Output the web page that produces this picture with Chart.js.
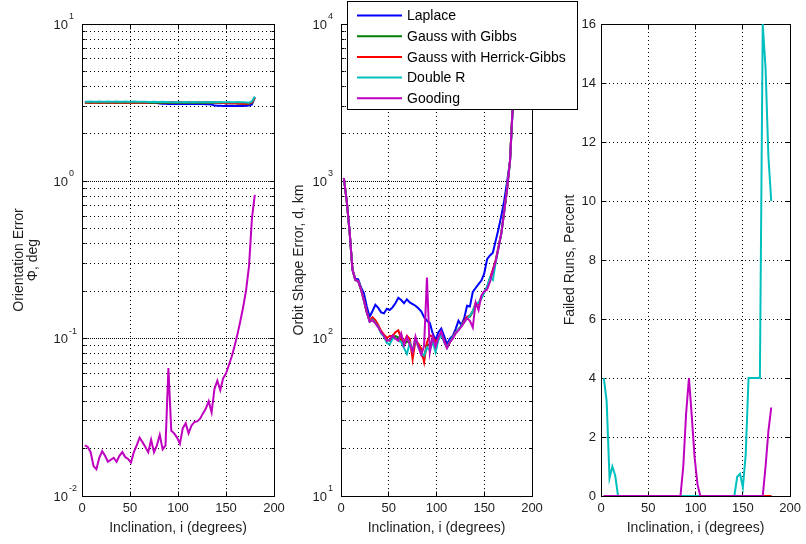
<!DOCTYPE html>
<html>
<head>
<meta charset="utf-8">
<script src="https://cdn.jsdelivr.net/npm/chart.js@4.4.1/dist/chart.umd.min.js"></script>
<style>
  html, body { margin: 0; padding: 0; background: #fff; }
  #fig { position: relative; width: 806px; height: 544px; overflow: hidden; background: #fff; }
  #fig canvas { position: absolute; top: 0; }
</style>
</head>
<body>
<div id="fig">
  <canvas id="orient" width="290" height="544" style="left:0px"></canvas>
  <canvas id="shape" width="300" height="544" style="left:285px"></canvas>
  <canvas id="failed" width="266" height="544" style="left:540px"></canvas>
</div>
<script>
// inclination samples (degrees)
const INCL = [3, 6, 9, 12, 15, 18, 21, 24, 27, 30,
  33, 36, 39, 42, 45, 48, 51, 54, 57, 60,
  63, 66, 69, 72, 75, 78, 81, 84, 87, 90,
  93, 96, 99, 102, 105, 108, 111, 114, 117, 120,
  123, 126, 129, 132, 135, 138, 141, 144, 147, 150,
  153, 156, 159, 162, 165, 168, 171, 174, 177, 180];

const METHODS = ['Laplace', 'Gauss with Gibbs', 'Gauss with Herrick-Gibbs', 'Double R', 'Gooding'];
const COLORS = ['#0000ff', '#007f00', '#ff0000', '#00bfbf', '#bf00bf'];

const X_TICKS = [0, 50, 100, 150, 200];
const ORIENT_DECADES = [-2, -1, 0, 1];
const SHAPE_DECADES = [1, 2, 3, 4];
const FAIL_TICKS = [0, 2, 4, 6, 8, 10, 12, 14, 16];

// Orientation error, deg
const ORIENT_LAPLACE = [3.18, 3.18, 3.19, 3.18, 3.18, 3.17, 3.18, 3.18, 3.18, 3.17,
  3.18, 3.18, 3.18, 3.17, 3.18, 3.18, 3.18, 3.18, 3.17, 3.18,
  3.18, 3.17, 3.16, 3.16, 3.16, 3.15, 3.12, 3.11, 3.11, 3.10,
  3.10, 3.10, 3.10, 3.11, 3.10, 3.10, 3.10, 3.11, 3.10, 3.10,
  3.10, 3.10, 3.09, 3.09, 3.08, 3.03, 3.02, 3.02, 3.01, 3.02,
  3.01, 3.02, 3.01, 3.01, 3.02, 3.01, 3.02, 3.03, 3.08, 3.42];
const ORIENT_GIBBS = [3.16, 3.16, 3.15, 3.16, 3.16, 3.15, 3.16, 3.16, 3.15, 3.16,
  3.16, 3.15, 3.16, 3.16, 3.15, 3.16, 3.16, 3.15, 3.16, 3.16,
  3.15, 3.16, 3.16, 3.15, 3.16, 3.16, 3.15, 3.16, 3.16, 3.15,
  3.16, 3.16, 3.15, 3.16, 3.16, 3.15, 3.16, 3.16, 3.15, 3.16,
  3.16, 3.15, 3.16, 3.16, 3.15, 3.16, 3.16, 3.15, 3.15, 3.14,
  3.14, 3.13, 3.13, 3.12, 3.11, 3.11, 3.10, 3.11, 3.16, 3.40];
const ORIENT_HG = [3.17, 3.17, 3.17, 3.16, 3.17, 3.17, 3.16, 3.17, 3.17, 3.17,
  3.16, 3.17, 3.17, 3.17, 3.16, 3.17, 3.17, 3.16, 3.17, 3.17,
  3.17, 3.16, 3.17, 3.18, 3.18, 3.19, 3.18, 3.18, 3.19, 3.18,
  3.19, 3.18, 3.18, 3.19, 3.18, 3.18, 3.19, 3.18, 3.18, 3.19,
  3.18, 3.18, 3.19, 3.18, 3.18, 3.17, 3.16, 3.16, 3.15, 3.14,
  3.14, 3.13, 3.13, 3.12, 3.12, 3.11, 3.11, 3.12, 3.17, 3.41];
const ORIENT_DOUBLER = [3.21, 3.21, 3.22, 3.21, 3.21, 3.22, 3.21, 3.21, 3.22, 3.21,
  3.21, 3.22, 3.21, 3.21, 3.22, 3.21, 3.21, 3.22, 3.21, 3.21,
  3.20, 3.20, 3.19, 3.19, 3.20, 3.19, 3.19, 3.20, 3.19, 3.19,
  3.18, 3.18, 3.19, 3.18, 3.18, 3.19, 3.18, 3.18, 3.19, 3.18,
  3.18, 3.19, 3.18, 3.18, 3.19, 3.18, 3.18, 3.19, 3.18, 3.18,
  3.19, 3.18, 3.18, 3.19, 3.18, 3.18, 3.17, 3.16, 3.22, 3.46];
const ORIENT_GOODING = [0.021, 0.0205, 0.019, 0.0155, 0.0148, 0.0175, 0.0193, 0.018, 0.0165, 0.017,
  0.0175, 0.0165, 0.018, 0.019, 0.0177, 0.0172, 0.0163, 0.019, 0.021, 0.0235,
  0.022, 0.0205, 0.019, 0.0228, 0.019, 0.021, 0.0245, 0.0198, 0.021, 0.065,
  0.026, 0.025, 0.0235, 0.0215, 0.027, 0.029, 0.025, 0.028, 0.0295, 0.0298,
  0.031, 0.0335, 0.036, 0.040, 0.034, 0.048, 0.054, 0.047, 0.056, 0.060,
  0.068, 0.077, 0.090, 0.107, 0.130, 0.160, 0.205, 0.290, 0.58, 0.82];

// Orbit shape error, km
const SHAPE_LAPLACE = [1050, 750, 480, 275, 240, 238, 212, 194, 160, 138,
  150, 164, 157, 147, 145, 155, 152, 158, 168, 182,
  176, 168, 178, 170, 166, 162, 156, 149, 137, 130,
  126, 108, 98, 110, 116, 104, 92, 100, 104, 115,
  130, 122, 135, 162, 160, 198, 210, 222, 234, 260,
  320, 338, 352, 420, 500, 610, 760, 1000, 1350, 3000];
const SHAPE_GIBBS = [1050, 750, 480, 275, 236, 232, 205, 175, 147, 129,
  134, 128, 120, 110, 104, 98, 97, 102, 104, 102,
  98, 92, 96, 95, 80, 98, 90, 82, 76, 92,
  90, 100, 90, 100, 108, 96, 88, 95, 101, 109,
  114, 120, 128, 136, 138, 148, 166, 166, 182, 197,
  212, 242, 272, 312, 382, 472, 652, 905, 1355, 3200];
const SHAPE_HG = [1050, 750, 480, 275, 236, 232, 205, 175, 147, 130,
  137, 131, 122, 112, 106, 101, 104, 104, 110, 113,
  100, 95, 104, 100, 74, 98, 93, 86, 71, 95,
  105, 103, 96, 100, 108, 97, 88, 95, 102, 110,
  115, 121, 130, 138, 140, 150, 168, 165, 185, 198,
  210, 240, 275, 315, 385, 475, 655, 910, 1360, 3200];
const SHAPE_DOUBLER = [1050, 750, 480, 275, 236, 232, 205, 175, 147, 128,
  132, 126, 119, 108, 103, 94, 92, 100, 101, 97,
  95, 87, 80, 94, 84, 100, 88, 81, 78, 88,
  84, 96, 82, 98, 106, 95, 88, 96, 102, 109,
  115, 121, 128, 135, 140, 150, 165, 170, 180, 196,
  215, 245, 236, 305, 380, 470, 650, 900, 1350, 3200];
const SHAPE_GOODING = [1050, 750, 480, 275, 236, 232, 205, 175, 147, 128,
  131, 125, 118, 110, 104, 97, 98, 105, 100, 97,
  108, 91, 103, 92, 83, 103, 89, 79, 90, 245,
  82, 103, 89, 102, 111, 96, 87, 95, 100, 108,
  113, 119, 127, 135, 130, 118, 170, 152, 188, 200,
  205, 230, 270, 310, 380, 470, 650, 900, 1350, 3200];

// Failed runs, percent
const FAIL_LAPLACE = [0, 0, 0, 0, 0, 0, 0, 0, 0, 0,
  0, 0, 0, 0, 0, 0, 0, 0, 0, 0,
  0, 0, 0, 0, 0, 0, 0, 0, 0, 0,
  0, 0, 0, 0, 0, 0, 0, 0, 0, 0,
  0, 0, 0, 0, 0, 0, 0, 0, 0, 0,
  0, 0, 0, 0, 0, 0, 0, 0, 0, 0];
const FAIL_GIBBS = [0, 0, 0, 0, 0, 0, 0, 0, 0, 0,
  0, 0, 0, 0, 0, 0, 0, 0, 0, 0,
  0, 0, 0, 0, 0, 0, 0, 0, 0, 0,
  0, 0, 0, 0, 0, 0, 0, 0, 0, 0,
  0, 0, 0, 0, 0, 0, 0, 0, 0, 0,
  0, 0, 0, 0, 0, 0, 0, 0, 0, 0];
const FAIL_HG = [0, 0, 0, 0, 0, 0, 0, 0, 0, 0,
  0, 0, 0, 0, 0, 0, 0, 0, 0, 0,
  0, 0, 0, 0, 0, 0, 0, 0, 0, 0,
  0, 0, 0, 0, 0, 0, 0, 0, 0, 0,
  0, 0, 0, 0, 0, 0, 0, 0, 0, 0,
  0, 0, 0, 0, 0, 0, 0, 0, 0, 0];
const FAIL_DOUBLER = [4.0, 3.2, 0.6, 1.0, 0.7, 0, 0, 0, 0, 0,
  0, 0, 0, 0, 0, 0, 0, 0, 0, 0,
  0, 0, 0, 0, 0, 0, 0, 0, 0, 0,
  0, 0, 0, 0, 0, 0, 0, 0, 0, 0,
  0, 0, 0, 0, 0, 0, 0, 0.65, 0.75, 0.3,
  1.4, 4, 4, 4, 4, 4, 16, 14.5, 11.5, 10];
const FAIL_GOODING = [0, 0, 0, 0, 0, 0, 0, 0, 0, 0,
  0, 0, 0, 0, 0, 0, 0, 0, 0, 0,
  0, 0, 0, 0, 0, 0, 0, 0, 1.0, 2.8,
  4.0, 2.7, 1.3, 0.4, 0, 0, 0, 0, 0, 0,
  0, 0, 0, 0, 0, 0, 0, 0, 0, 0,
  0, 0, 0, 0, 0, 0, 0, 1.0, 2.2, 3.0];

const FONT = '"Liberation Sans", Arial, Helvetica, sans-serif';
const TXT = '#1e1e1e';
Chart.defaults.font.family = FONT;
Chart.defaults.color = TXT;

function series(values) {
  return INCL.map((x, i) => ({ x: x, y: values[i] }));
}

// matlab draws later lines on top, so Gooding gets the lowest order
function makeDatasets(list) {
  return list.map((vals, k) => ({
    label: METHODS[k],
    data: series(vals),
    borderColor: COLORS[k],
    backgroundColor: COLORS[k],
    borderWidth: 2,
    pointRadius: 0,
    tension: 0,
    order: list.length - 1 - k
  }));
}

const gridOpts = { color: '#000', lineWidth: 1, drawTicks: false };
const borderOpts = { display: false, dash: [1, 3] };

function xAxis() {
  return {
    type: 'linear',
    min: X_TICKS[0],
    max: X_TICKS[X_TICKS.length - 1],
    afterBuildTicks: s => { s.ticks = X_TICKS.map(v => ({ value: v })); },
    afterFit: s => { s.height = 48; },
    grid: gridOpts,
    border: borderOpts,
    ticks: { padding: 5, color: TXT, font: { size: 13 }, maxRotation: 0, autoSkip: false },
    title: { display: true, text: 'Inclination, i (degrees)', color: TXT,
      font: { size: 14 }, padding: { top: 0, bottom: 7 } }
  };
}

function logAxis(decades, width, titleText, titlePad) {
  const lo = decades[0], hi = decades[decades.length - 1];
  return {
    type: 'logarithmic',
    min: Math.pow(10, lo),
    max: Math.pow(10, hi),
    afterBuildTicks: s => {
      const t = [];
      for (let e = lo; e < hi; e++) {
        for (let m = 1; m < 10; m++) t.push({ value: m * Math.pow(10, e), minor: m > 1 });
      }
      t.push({ value: Math.pow(10, hi), minor: false });
      s.ticks = t;
    },
    afterFit: s => { s.width = width; },
    grid: gridOpts,
    border: borderOpts,
    ticks: { display: false },
    title: { display: true, text: titleText, color: TXT,
      font: { size: 14, lineHeight: 1 }, padding: { top: titlePad, bottom: 0 } }
  };
}

const px = p => Math.round(p - 0.5) + 0.5;

// axes box and inward ticks sit under the data (matlab Layer 'bottom'),
// 10^n labels and the legend go on top
const matlabFrame = {
  id: 'matlabFrame',
  beforeDatasetsDraw(chart, args, opts) {
    const { ctx, chartArea: a } = chart;
    const xs = chart.scales.x, ys = chart.scales.y;
    const L = px(a.left), R = px(a.right), T = px(a.top), B = px(a.bottom);
    ctx.save();
    ctx.strokeStyle = '#000';
    ctx.lineWidth = 1;
    if (opts.decades) {
      ctx.setLineDash([1, 3]);
      ctx.lineDashOffset = 2;
      ctx.beginPath();
      opts.decades.forEach(e => {
        const y = px(ys.getPixelForValue(Math.pow(10, e)));
        ctx.moveTo(a.left, y);
        ctx.lineTo(a.right, y);
      });
      ctx.stroke();
    }
    ctx.setLineDash([]);
    ctx.beginPath();
    ys.ticks.forEach(t => {
      const y = px(ys.getPixelForValue(t.value));
      const len = t.minor ? 3 : 5;
      ctx.moveTo(L, y); ctx.lineTo(L + len, y);
      ctx.moveTo(R, y); ctx.lineTo(R - len, y);
    });
    xs.ticks.forEach(t => {
      const x = px(xs.getPixelForValue(t.value));
      ctx.moveTo(x, T); ctx.lineTo(x, T + 5);
      ctx.moveTo(x, B); ctx.lineTo(x, B - 5);
    });
    ctx.stroke();
    ctx.strokeRect(L, T, R - L, B - T);
    ctx.restore();
  },
  afterDraw(chart, args, opts) {
    const { ctx, chartArea: a } = chart;
    const ys = chart.scales.y;
    ctx.save();
    if (opts.decades) {
      ctx.fillStyle = TXT;
      opts.decades.forEach(e => {
        const y = ys.getPixelForValue(Math.pow(10, e));
        ctx.font = '13px ' + FONT;
        ctx.textAlign = 'right';
        ctx.textBaseline = 'middle';
        ctx.fillText('10', a.left - 14, y + 1);
        ctx.font = '9px ' + FONT;
        ctx.textAlign = 'left';
        ctx.textBaseline = 'alphabetic';
        ctx.fillText(String(e), a.left - 13, y - 5);
      });
    }

    if (opts.legend) {
      const g = opts.legend;
      ctx.fillStyle = '#fff';
      ctx.fillRect(g.x, g.y, g.w, g.h);
      ctx.strokeStyle = '#000';
      ctx.lineWidth = 1;
      ctx.strokeRect(g.x + 0.5, g.y + 0.5, g.w, g.h);
      ctx.font = '14px ' + FONT;
      ctx.textAlign = 'left';
      ctx.textBaseline = 'middle';
      chart.data.datasets.forEach((ds, i) => {
        const y = g.y + g.first + i * g.step;
        ctx.strokeStyle = ds.borderColor;
        ctx.lineWidth = 2;
        ctx.beginPath();
        ctx.moveTo(g.x + 10, y);
        ctx.lineTo(g.x + 55, y);
        ctx.stroke();
        ctx.fillStyle = '#000';
        ctx.fillText(ds.label, g.x + 60, y + 1);
      });
    }
    ctx.restore();
  }
};

function baseOptions(padRight, scales, frame) {
  return {
    responsive: false,
    animation: false,
    layout: { padding: { left: 0, right: padRight, top: 24, bottom: 0 } },
    plugins: { legend: { display: false }, tooltip: { enabled: false }, matlabFrame: frame },
    scales: scales
  };
}

new Chart(document.getElementById('orient'), {
  type: 'line',
  data: { datasets: makeDatasets([ORIENT_LAPLACE, ORIENT_GIBBS, ORIENT_HG, ORIENT_DOUBLER, ORIENT_GOODING]) },
  options: baseOptions(16, {
    x: xAxis(),
    y: logAxis(ORIENT_DECADES, 82, ['Orientation Error', 'Φ, deg'], 12.5)
  }, { decades: ORIENT_DECADES }),
  plugins: [matlabFrame]
});

new Chart(document.getElementById('shape'), {
  type: 'line',
  data: { datasets: makeDatasets([SHAPE_LAPLACE, SHAPE_GIBBS, SHAPE_HG, SHAPE_DOUBLER, SHAPE_GOODING]) },
  options: baseOptions(53, {
    x: xAxis(),
    y: logAxis(SHAPE_DECADES, 56, 'Orbit Shape Error, d, km', 7)
  }, { decades: SHAPE_DECADES, legend: { x: 62, y: 1, w: 230, h: 108, first: 14.5, step: 20.7 } }),
  plugins: [matlabFrame]
});

new Chart(document.getElementById('failed'), {
  type: 'line',
  data: { datasets: makeDatasets([FAIL_LAPLACE, FAIL_GIBBS, FAIL_HG, FAIL_DOUBLER, FAIL_GOODING]) },
  options: baseOptions(14, {
    x: xAxis(),
    y: {
      type: 'linear',
      min: FAIL_TICKS[0],
      max: FAIL_TICKS[FAIL_TICKS.length - 1],
      afterBuildTicks: s => { s.ticks = FAIL_TICKS.map(v => ({ value: v })); },
      afterFit: s => { s.width = 61; },
      grid: gridOpts,
      border: borderOpts,
      ticks: { padding: 5, color: TXT, font: { size: 13 } },
      title: { display: true, text: 'Failed Runs, Percent', color: TXT,
        font: { size: 14, lineHeight: 1 }, padding: { top: 23, bottom: 0 } }
    }
  }, {}),
  plugins: [matlabFrame]
});
</script>
</body>
</html>
